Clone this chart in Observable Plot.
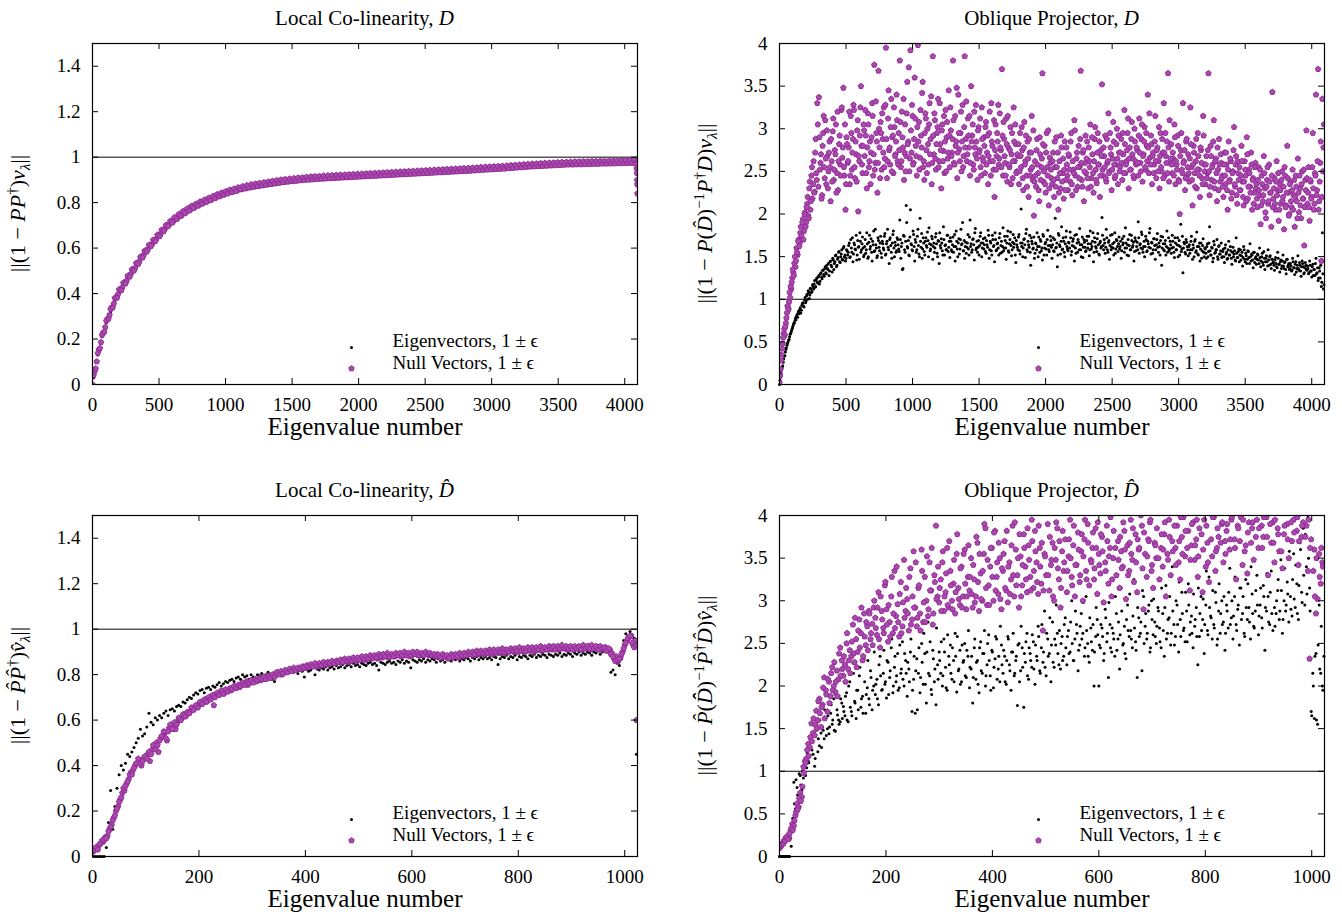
<!DOCTYPE html>
<html><head><meta charset="utf-8">
<script src="https://cdn.jsdelivr.net/npm/d3@7"></script>
<script src="https://cdn.jsdelivr.net/npm/@observablehq/plot@0.6"></script>
<style>
html,body{margin:0;padding:0;background:#fff;}
#wrap{position:relative;width:1342px;height:920px;font-family:"Liberation Serif",serif;color:#000;}
.panel{position:absolute;width:671px;height:460px;}
.title{position:absolute;font-size:21px;line-height:22px;transform:translateX(-50%);white-space:nowrap;}
</style></head><body><div id="wrap"></div>
<script>
// ---------- tick labels / categories ----------
const xTicksTop = [0,500,1000,1500,2000,2500,3000,3500,4000];
const xTicksBottom = [0,200,400,600,800,1000];
const yTicksColin = [0,0.2,0.4,0.6,0.8,1,1.2,1.4];
const yTicksOblique = [0,0.5,1,1.5,2,2.5,3,3.5,4];
const legendLabels = ["Eigenvectors, 1 \u00b1 \u03f5", "Null Vectors, 1 \u00b1 \u03f5"];
const xAxisLabel = "Eigenvalue number";

// ---------- Local Co-linearity, D ----------
const tlNullStep = 16;
const tlNullY = [
0.000,0.058,0.101,0.153,0.186,0.228,0.252,0.289,0.306,0.339,0.356,0.384,0.397,0.419,0.427,0.449,
0.456,0.479,0.486,0.507,0.512,0.535,0.541,0.563,0.568,0.589,0.594,0.614,0.617,0.636,0.640,0.658,
0.661,0.680,0.684,0.701,0.703,0.718,0.719,0.733,0.733,0.747,0.746,0.760,0.758,0.772,0.770,0.783,
0.780,0.793,0.790,0.803,0.799,0.811,0.807,0.819,0.815,0.827,0.823,0.835,0.830,0.842,0.837,0.848,
0.845,0.853,0.849,0.858,0.854,0.863,0.859,0.868,0.863,0.872,0.867,0.876,0.870,0.879,0.873,0.882,
0.876,0.885,0.879,0.888,0.882,0.891,0.885,0.893,0.888,0.896,0.890,0.898,0.893,0.901,0.895,
0.904,0.897,0.906,0.899,0.907,0.901,0.909,0.902,0.912,0.904,0.911,0.905,0.913,0.906,0.914,0.908,
0.915,0.909,0.916,0.910,0.917,0.911,0.918,0.912,0.919,0.913,0.920,0.914,0.921,0.915,0.922,
0.916,0.923,0.917,0.924,0.918,0.925,0.919,0.926,0.920,0.927,0.921,0.928,0.922,0.929,0.923,0.930,
0.924,0.931,0.925,0.932,0.926,0.933,0.927,0.934,0.928,0.935,0.929,0.936,0.930,0.937,0.931,0.938,
0.932,0.939,0.933,0.940,0.934,0.941,0.935,0.942,0.936,0.943,0.937,0.944,0.938,0.945,0.939,0.946,
0.940,0.947,0.941,0.948,0.943,0.950,0.944,0.951,0.945,0.952,0.946,0.953,0.947,0.954,0.949,
0.955,0.950,0.957,0.951,0.958,0.953,0.960,0.954,0.961,0.955,0.962,0.957,0.963,0.958,0.965,0.959,
0.966,0.961,0.967,0.962,0.968,0.963,0.969,0.964,0.970,0.965,0.971,0.966,0.972,0.967,0.973,
0.968,0.974,0.969,0.975,0.970,0.976,0.970,0.977,0.971,0.977,0.972,0.978,0.972,0.978,0.973,0.979,
0.973,0.979,0.974,0.980,0.974,0.980,0.975,0.981,0.975,0.981,0.976,0.982,0.976,0.982,0.977,0.983,
0.977,0.983,0.978,0.984];
const tlNull2Start = 8;
const tlNullY2 = [
0.040,0.070,0.138,0.160,0.218,0.231,0.280,0.289,0.332,0.338,0.380,0.381,0.418,0.414,0.447,0.444,
0.477,0.474,0.506,0.501,0.534,0.530,0.561,0.558,0.588,0.584,0.614,0.609,0.636,0.630,0.658,0.652,
0.680,0.675,0.701,0.696,0.719,0.712,0.735,0.727,0.749,0.741,0.762,0.753,0.774,0.765,0.785,0.776,
0.794,0.786,0.804,0.795,0.812,0.803,0.820,0.811,0.828,0.819,0.836,0.827,0.843,0.834,0.849,0.840,
0.856,0.846,0.861,0.851,0.867,0.858,0.872,0.862,0.876,0.866,0.880,0.870,0.883,0.872,0.886,0.876,
0.889,0.879,0.892,0.881,0.895,0.884,0.898,0.887,0.901,0.890,0.903,0.892,0.905,0.894,0.907,0.896,
0.909,0.898,0.910,0.900,0.912,0.901,0.914,0.902,0.915,0.904,0.916,0.905,0.918,0.906,0.919,0.907,
0.920,0.908,0.921,0.909,0.922,0.910,0.923,0.911,0.924,0.912,0.925,0.913,0.926,0.914,0.927,0.915,
0.928,0.916,0.929,0.917,0.930,0.918,0.931,0.919,0.932,0.920,0.933,0.921,0.934,0.922,0.935,0.923,
0.936,0.924,0.937,0.925,0.938,0.926,0.939,0.927,0.940,0.928,0.941,0.929,0.942,0.930,0.943,0.931,
0.944,0.932,0.945,0.933,0.946,0.934,0.947,0.935,0.948,0.936,0.949,0.937,0.950,0.938,0.951,0.939,
0.952,0.940,0.953,0.941,0.954,0.943,0.956,0.944,0.957,0.945,0.958,0.946,0.959,0.947,0.960,0.948,
0.961,0.949,0.962,0.951,0.964,0.952,0.965,0.954,0.967,0.955,0.968,0.957,0.969,0.958,0.971,0.959,
0.972,0.960,0.973,0.961,0.974,0.962,0.975,0.963,0.976,0.964,0.977,0.965,0.978,0.966,0.978,0.967,
0.979,0.967,0.980,0.968,0.980,0.968,0.981,0.969,0.981,0.969,0.982,0.970,0.982,0.970,0.983,0.971,
0.983,0.971,0.984,0.972,0.984,0.972,0.985,0.973,0.985,0.973,0.986,0.974,0.986,0.974,0.987,0.975];
const tlNullTailX = [4086,4088,4090,4092,4093,4094,4095];
const tlNullTailY = [0.975,0.97,0.95,0.93,0.90,0.88,0.84];
const tlEigStep = 32, tlEigStart = 8;
const tlEigY = [
0.03,0.13,0.21,0.27,0.32,0.37,0.41,0.44,0.47,0.50,0.525,0.55,0.58,0.605,0.63,0.65,
0.672,0.693,0.713,0.73,0.745,0.757,0.772,0.783,0.793,0.803,0.812,0.82,0.828,0.835,0.841,0.847,
0.852,0.856,0.861,0.866,0.87,0.874,0.877,0.88,0.883,0.886,0.889,0.892,0.894,0.897,0.899,0.901,
0.903,0.905,0.906,0.908,0.909,0.911,0.912,0.913,0.914,0.915,0.916,0.917,0.918,0.919,0.92,0.921,
0.922,0.923,0.924,0.925,0.926,0.927,0.928,0.929,0.93,0.931,0.932,0.933,0.934,0.935,0.936,0.937,
0.938,0.939,0.940,0.941,0.942,0.943,0.944,0.945,0.946,0.947,0.948,0.949,0.95,0.951,0.952,0.953,
0.955,0.956,0.958,0.959,0.96,0.962,0.963,0.964,0.965,0.966,0.967,0.968,0.969,0.97,0.971,0.972,
0.973,0.974,0.974,0.975,0.975,0.976,0.976,0.977,0.977,0.978,0.978,0.979,0.979,0.98,0.98,0.981];

// ---------- Oblique Projector, D ----------
const trStep = 8, tr2Start = 4;
const trEigY = [
0.00,0.09,0.17,0.22,0.30,0.34,0.41,0.46,0.50,0.53,0.59,0.62,0.66,0.70,0.72,0.78,
0.80,0.79,0.86,0.88,0.84,0.93,0.96,0.91,1.02,0.98,1.06,1.10,1.01,1.13,1.08,1.17,
1.12,1.22,1.15,1.25,1.19,1.28,1.21,1.31,1.24,1.34,1.27,1.38,1.30,1.36,1.42,1.33,
1.45,1.38,1.48,1.35,1.44,1.52,1.40,1.49,1.56,1.43,1.53,1.47,1.60,1.50,1.45,1.58,1.52,
1.63,1.49,1.70,1.55,1.44,1.66,1.59,1.75,1.52,1.61,1.47,1.68,1.58,1.73,1.50,
1.62,1.54,1.78,1.48,1.67,1.59,1.71,1.45,1.64,1.56,1.82,1.60,1.51,1.69,1.57,1.74,
1.49,1.65,1.58,1.77,1.53,1.68,1.61,1.42,1.72,1.55,1.66,1.80,1.50,1.63,1.57,1.70,
1.59,1.93,1.48,1.66,1.36,1.74,1.55,2.10,1.62,1.69,1.51,2.05,1.64,1.57,1.76,1.45,
1.67,1.58,1.82,1.53,1.95,1.61,1.48,1.72,1.56,1.68,1.63,1.79,1.50,1.65,1.59,1.74,
1.47,1.66,1.60,1.77,1.54,1.69,1.42,1.63,1.71,1.57,1.85,1.52,1.64,1.58,1.75,1.61,
1.49,1.68,1.56,1.73,1.62,1.45,1.80,1.59,1.66,1.53,1.70,1.64,1.90,1.57,1.48,1.67,
1.61,1.76,1.52,1.93,1.65,1.58,1.71,1.46,1.83,1.60,1.55,1.69,1.63,1.78,1.50,1.66,
1.59,1.72,1.54,1.64,1.81,1.48,1.68,1.57,1.75,1.62,1.44,1.70,1.58,1.66,1.52,1.77,
1.63,1.55,1.84,1.60,1.69,1.47,1.74,1.57,1.65,1.79,1.51,1.67,1.61,1.72,1.43,1.64,
1.58,1.76,1.53,2.06,1.66,1.60,1.71,1.49,1.82,1.56,1.64,1.75,1.40,1.68,1.59,1.73,
1.54,1.65,1.78,1.50,1.62,1.70,1.57,1.46,1.74,1.60,1.67,1.52,1.81,1.58,1.63,1.69,
1.48,1.72,1.56,1.95,1.61,1.38,1.77,1.64,1.53,1.85,1.59,1.68,1.50,1.73,1.62,1.57,
1.66,1.79,1.52,1.63,1.71,1.45,1.60,1.76,1.55,1.67,1.83,1.58,1.64,1.49,1.70,1.61,
1.57,1.74,1.65,1.51,1.80,1.59,1.68,1.44,1.72,1.62,1.56,1.77,1.53,1.66,1.60,1.96,
1.63,1.70,1.54,1.82,1.58,1.67,1.47,1.75,1.61,1.65,1.52,1.78,1.59,1.69,1.56,1.73,
1.62,1.48,1.71,1.66,1.55,1.84,1.60,1.64,1.51,1.76,1.58,1.69,1.63,1.45,1.72,1.57,
1.67,1.91,1.54,1.65,1.79,1.59,1.62,1.50,1.74,1.56,1.68,1.61,1.83,1.53,1.66,1.58,
1.71,1.47,1.64,1.77,1.55,1.62,1.69,1.40,1.73,1.58,1.65,1.52,1.80,1.60,1.57,1.68,
1.54,1.75,1.61,1.49,1.66,1.58,1.72,1.63,1.52,1.88,1.59,1.31,1.67,1.55,1.70,1.62,
1.51,1.64,1.58,1.74,1.47,1.60,1.68,1.55,1.79,1.53,1.62,1.45,1.66,1.57,1.71,1.50,
1.59,1.48,1.65,1.56,1.85,1.52,1.61,1.44,1.68,1.54,1.58,1.70,1.47,1.63,1.53,1.66,
1.50,1.59,1.43,1.64,1.55,1.48,1.68,1.52,1.57,1.41,1.61,1.53,1.46,1.72,1.49,1.56,
1.44,1.58,1.51,1.39,1.62,1.47,1.54,1.42,1.57,1.49,1.65,1.45,1.52,1.37,1.55,1.48,
1.41,1.53,1.46,1.60,1.38,1.50,1.43,1.56,1.35,1.48,1.44,1.58,1.40,1.51,1.36,1.47,
1.43,1.34,1.49,1.38,1.55,1.41,1.32,1.46,1.39,1.52,1.36,1.44,1.30,1.47,1.40,1.35,
1.42,1.33,1.48,1.37,1.29,1.44,1.36,1.51,1.34,1.40,1.27,1.45,1.38,1.31,1.43,1.35,
1.39,1.30,1.45,1.33,1.26,1.41,1.35,1.28,1.48,1.31,1.22,1.37,1.25,1.15,1.78,1.12];
const trEigY2 = [
0.05,0.13,0.20,0.26,0.33,0.38,0.43,0.48,0.52,0.56,0.60,0.64,0.68,0.72,0.75,0.76,
0.82,0.85,0.83,0.90,0.87,0.95,0.92,0.99,0.96,1.04,1.00,1.08,1.05,1.12,1.09,1.15,
1.18,1.14,1.23,1.20,1.26,1.18,1.30,1.26,1.34,1.29,1.36,1.31,1.40,1.35,1.28,1.44,
1.40,1.32,1.46,1.42,1.51,1.38,1.47,1.55,1.44,1.50,1.58,1.46,1.62,1.52,1.48,1.57,
1.55,1.66,1.50,1.60,1.72,1.53,1.64,1.58,1.46,1.69,1.62,1.78,1.55,1.65,1.60,1.52,
1.70,1.58,1.65,1.50,1.75,1.62,1.55,1.68,1.80,1.57,1.64,1.49,1.72,1.61,1.66,1.54,
1.68,1.60,1.74,1.52,1.65,1.82,1.58,1.70,1.63,1.48,1.76,1.60,1.67,1.55,1.72,1.64,
1.56,1.70,1.62,1.35,1.75,1.58,1.68,1.90,1.60,1.52,1.73,1.65,1.58,1.80,1.62,1.70,
1.55,1.74,1.63,1.50,1.68,1.77,1.59,1.66,1.52,1.72,1.61,1.69,1.84,1.57,1.64,1.71,
1.62,1.55,1.73,1.65,1.50,1.68,1.78,1.60,1.66,1.52,1.70,1.63,1.58,1.75,1.56,1.68,
1.72,1.58,1.64,1.55,1.76,1.62,1.68,1.50,1.71,1.59,1.82,1.65,1.57,1.69,1.62,1.54,
1.66,1.59,1.73,1.62,1.55,1.70,1.64,1.78,1.58,1.68,1.61,1.52,1.74,1.66,1.60,1.71,
1.64,1.56,1.69,1.61,1.75,1.58,1.66,1.52,1.70,1.63,1.78,1.57,1.65,1.60,1.72,1.54,
1.68,1.62,1.57,1.74,1.60,1.66,1.80,1.55,1.70,1.63,1.58,1.76,1.65,1.52,1.69,1.61,
1.73,1.57,1.66,1.62,1.50,1.70,1.64,1.77,1.58,1.68,1.61,1.55,1.72,1.65,1.60,1.48,
1.66,1.58,1.62,1.73,1.55,1.68,1.60,1.76,1.52,1.65,1.59,1.70,1.63,1.56,1.74,1.61,
1.64,1.57,1.70,1.60,1.66,1.52,1.75,1.62,1.68,1.58,1.72,1.55,1.65,1.80,1.59,1.67,
1.60,1.72,1.56,1.68,1.62,1.75,1.54,1.66,1.70,1.58,1.64,1.50,1.73,1.61,1.67,1.56,
1.69,1.60,1.74,1.58,1.65,1.62,1.78,1.55,1.67,1.60,1.71,1.64,1.52,1.68,1.62,1.75,
1.58,1.66,1.61,1.72,1.55,1.69,1.63,1.58,1.76,1.60,1.67,1.54,1.70,1.62,1.65,1.59,
1.68,1.57,1.64,1.74,1.60,1.66,1.52,1.70,1.63,1.58,1.75,1.61,1.67,1.56,1.69,1.62,
1.58,1.72,1.64,1.60,1.76,1.55,1.68,1.62,1.70,1.57,1.65,1.78,1.60,1.67,1.54,1.71,
1.63,1.58,1.70,1.61,1.66,1.52,1.74,1.60,1.65,1.57,1.69,1.62,1.55,1.72,1.59,1.64,
1.60,1.68,1.55,1.72,1.58,1.64,1.50,1.69,1.62,1.56,1.74,1.60,1.65,1.53,1.67,1.58,
1.62,1.54,1.68,1.58,1.64,1.50,1.70,1.57,1.62,1.52,1.66,1.59,1.48,1.63,1.55,1.60,
1.54,1.62,1.50,1.66,1.57,1.52,1.60,1.48,1.64,1.55,1.58,1.50,1.62,1.53,1.57,1.49,
1.56,1.50,1.60,1.53,1.47,1.58,1.52,1.62,1.48,1.55,1.50,1.57,1.45,1.54,1.49,1.59,
1.52,1.46,1.55,1.49,1.58,1.44,1.51,1.47,1.56,1.42,1.50,1.53,1.46,1.55,1.43,1.50,
1.47,1.52,1.42,1.49,1.45,1.54,1.40,1.48,1.44,1.51,1.39,1.46,1.50,1.41,1.47,1.43,
1.40,1.46,1.42,1.37,1.48,1.41,1.44,1.36,1.45,1.39,1.43,1.35,1.47,1.38,1.42,1.36,
1.39,1.34,1.44,1.37,1.41,1.32,1.40,1.36,1.43,1.33,1.38,1.42,1.30,1.37,1.40,1.34,
1.36,1.31,1.40,1.33,1.38,1.28,1.35,1.42,1.30,1.37,1.25,1.33,1.40,1.20,1.30,1.17];
const trNullY = [
0.02,0.18,0.35,0.48,0.60,0.58,0.72,0.84,0.90,0.97,1.02,1.12,1.25,1.31,1.42,1.38,
1.60,1.52,1.70,1.66,1.85,1.72,1.94,1.80,2.02,1.90,2.12,1.98,2.30,2.05,2.45,2.18,
2.62,2.26,2.88,2.40,3.05,3.37,2.52,2.70,2.22,2.95,2.55,3.10,2.35,2.68,2.50,2.85,
2.15,2.62,2.97,2.40,2.75,3.05,2.48,2.28,2.82,2.58,3.22,2.66,3.48,2.45,2.05,2.90,2.60,
2.78,2.35,3.15,2.52,2.88,3.22,2.42,2.70,2.98,2.03,2.62,3.25,2.80,2.48,3.05,
2.68,2.92,2.30,3.18,2.55,2.85,2.72,3.30,2.45,3.75,2.60,2.95,2.25,3.68,2.78,3.08,
2.52,2.88,3.25,2.65,3.95,2.42,3.12,2.75,2.58,3.35,2.90,2.48,3.02,2.70,3.40,2.62,
2.95,3.80,2.55,3.20,2.78,2.40,3.05,2.68,3.55,2.85,2.50,3.92,2.72,3.15,2.60,3.60,
2.80,2.45,3.98,3.08,2.66,2.92,3.42,2.55,2.40,3.18,2.75,3.00,2.58,3.30,2.88,2.35,
3.85,2.70,3.10,2.52,2.95,3.35,2.62,2.82,2.30,3.05,2.74,2.48,3.22,2.90,2.65,3.45,
2.55,2.98,2.72,3.80,2.60,3.15,2.85,2.42,3.40,2.76,2.95,2.50,3.28,2.68,3.85,2.88,
2.62,3.12,2.78,2.45,3.50,2.92,2.58,3.20,2.70,2.85,2.40,3.02,2.75,2.55,3.25,2.66,
2.90,2.48,3.08,2.72,2.35,2.95,2.62,3.30,2.80,2.52,2.20,3.05,2.68,2.85,2.58,3.18,
2.75,3.70,2.45,2.88,2.60,3.12,2.38,2.78,2.55,3.02,2.70,2.42,3.25,2.62,2.82,2.50,
2.68,2.35,2.95,2.55,2.75,2.28,3.08,2.62,2.45,2.85,2.20,2.72,2.52,3.15,2.40,1.98,
2.62,2.32,2.88,2.48,2.15,2.70,2.55,3.65,2.38,2.80,2.25,2.95,2.45,2.10,2.66,2.52,
2.35,2.72,2.20,2.55,2.90,2.42,2.05,2.62,2.30,2.78,2.48,2.18,2.85,2.40,2.58,2.28,
2.68,2.38,2.95,2.22,2.52,3.10,2.45,2.65,2.32,2.80,2.55,3.68,2.40,2.72,2.15,2.60,
2.48,2.85,2.30,2.62,3.05,2.42,2.70,2.25,2.88,2.52,2.36,2.95,2.58,2.20,2.75,3.52,
2.45,2.68,2.92,2.38,2.60,3.18,2.50,2.78,2.28,2.65,2.85,2.42,2.58,3.00,2.35,2.72,
2.55,2.88,2.40,2.70,3.22,2.48,2.62,2.95,2.30,2.78,2.52,3.08,2.65,2.42,2.85,2.58,
2.75,2.45,3.12,2.60,2.88,2.38,2.70,3.02,2.52,2.80,3.40,2.48,2.66,2.92,2.35,2.72,
2.58,3.15,2.42,2.78,2.62,2.30,2.95,2.50,2.72,3.30,2.45,2.68,2.85,3.65,2.38,2.60,
2.82,2.48,2.65,3.05,2.35,2.58,2.92,2.40,2.00,2.75,2.52,3.30,2.62,2.28,2.85,2.45,
2.70,2.38,3.25,2.55,2.10,2.80,2.48,2.62,2.30,2.95,2.52,2.20,2.75,2.42,3.15,2.58,
2.35,2.68,2.48,3.65,2.22,2.80,2.40,2.58,3.10,2.30,2.65,2.15,2.52,2.88,2.38,2.60,
2.45,2.20,2.72,2.35,2.58,2.05,2.85,2.40,2.62,2.25,2.50,3.02,2.32,2.68,2.12,2.48,
2.55,2.28,2.80,2.38,2.10,2.62,2.45,2.90,2.18,2.52,2.32,2.72,2.05,2.42,2.25,2.60,
2.35,2.08,2.55,2.22,1.88,2.45,2.15,2.68,2.30,1.95,2.40,2.12,2.58,2.25,1.85,3.43,
2.18,2.42,2.05,2.62,2.28,1.92,2.35,2.12,2.50,2.20,1.82,2.45,2.10,2.80,2.25,2.00,
2.38,2.08,2.52,2.22,1.85,2.45,2.15,2.65,2.02,2.30,1.95,2.50,2.18,1.63,2.40,2.98,
2.12,2.55,1.92,2.38,2.20,2.95,2.05,2.48,3.40,2.28,3.70,2.15,2.60,1.45,3.35,2.78];
const trNullY2 = [
0.10,0.28,0.42,0.55,0.65,0.68,0.78,0.92,0.88,1.08,1.15,1.20,1.35,1.28,1.50,1.45,
1.55,1.68,1.62,1.78,1.75,1.90,1.70,2.00,1.85,2.08,2.20,1.95,2.38,2.15,2.55,2.35,
2.25,2.72,2.48,3.30,2.32,2.90,2.60,2.18,2.80,3.15,2.42,2.65,2.98,2.30,2.72,2.55,
2.88,2.38,3.12,2.52,2.70,2.25,3.20,2.62,2.92,2.45,3.25,2.78,2.55,3.05,2.35,2.82,
2.62,3.20,2.45,2.95,2.72,3.28,2.55,2.85,2.38,3.10,2.68,2.92,3.50,2.58,2.80,2.98,
3.22,2.48,2.78,3.05,2.62,2.35,2.90,3.15,2.70,2.52,3.32,2.85,2.60,3.00,2.42,2.95,
3.18,2.72,2.55,3.28,2.88,2.62,3.45,2.78,3.02,2.50,2.92,3.25,2.68,2.85,3.10,2.58,
2.75,3.08,2.62,2.90,3.35,2.72,2.50,3.18,2.82,3.72,2.65,2.98,3.28,2.58,2.88,3.12,
2.68,3.02,2.85,2.52,3.22,2.78,3.55,2.62,2.95,3.12,2.48,2.82,3.05,2.70,3.38,2.60,
2.92,3.18,2.65,2.82,3.02,2.55,3.30,2.75,2.98,2.62,3.15,2.85,2.50,3.08,2.72,2.92,
3.25,2.68,2.88,3.10,2.58,2.80,3.48,2.72,2.95,2.62,3.20,2.85,2.55,3.02,2.78,3.32,
2.70,2.92,3.15,2.60,2.85,3.05,2.52,2.78,3.28,2.65,2.98,2.72,3.12,2.45,2.88,2.62,
2.80,3.02,2.58,2.92,2.68,3.20,2.45,2.85,2.62,3.10,2.75,2.52,2.95,3.28,2.65,2.78,
2.55,2.92,3.08,2.68,2.45,2.82,3.15,2.58,2.75,2.35,2.95,2.62,2.85,3.05,2.48,2.70,
2.82,2.50,2.68,3.02,2.42,2.78,2.58,2.92,2.32,2.65,2.88,2.45,2.72,2.55,2.98,2.38,
2.45,2.75,2.58,2.28,2.90,2.40,2.65,2.82,2.50,2.35,2.72,2.55,2.98,2.30,2.60,2.42,
2.62,2.40,2.85,2.32,2.55,2.72,2.25,2.48,2.92,2.38,2.65,2.52,2.28,2.78,2.45,2.70,
2.52,2.85,2.35,2.62,2.48,2.98,2.28,2.72,2.55,2.42,2.88,2.60,2.32,2.75,2.50,2.92,
2.65,2.42,2.78,2.55,2.32,2.90,2.48,2.62,3.02,2.40,2.72,2.58,2.85,2.45,2.68,2.52,
2.78,2.55,2.42,2.88,2.62,2.48,2.95,2.70,2.52,3.08,2.58,2.45,2.82,2.65,2.92,2.50,
2.72,2.60,2.95,2.48,2.82,2.58,2.75,3.12,2.65,2.52,2.88,2.70,2.45,3.00,2.62,2.78,
2.60,2.92,2.72,2.50,3.05,2.68,2.85,2.55,2.95,2.62,2.78,3.18,2.58,2.82,2.68,2.48,
2.85,2.62,2.75,2.50,3.02,2.68,2.55,2.88,2.42,2.72,2.95,2.60,2.48,2.78,3.10,2.65,
2.58,2.72,2.45,2.90,2.62,2.52,2.80,2.38,2.68,2.95,2.48,2.60,2.75,2.42,2.88,2.55,
2.48,2.65,2.82,2.40,2.58,2.72,2.32,2.88,2.52,2.68,2.45,2.78,2.60,2.35,2.92,2.50,
2.58,2.42,2.75,2.50,2.32,2.68,2.55,2.85,2.38,2.62,2.48,2.78,2.28,2.58,2.70,2.42,
2.32,2.58,2.45,2.72,2.28,2.52,2.38,2.65,2.18,2.48,2.75,2.35,2.58,2.22,2.62,2.40,
2.28,2.45,2.62,2.20,2.38,2.52,2.15,2.70,2.32,2.48,2.25,2.58,2.40,2.12,2.55,2.30,
2.18,2.40,2.28,2.52,2.10,2.35,2.22,2.48,2.02,2.32,2.55,2.15,2.38,2.25,2.45,2.08,
2.30,2.12,2.38,2.22,2.48,2.05,2.28,2.40,2.15,2.32,2.55,2.08,2.25,2.42,1.98,2.35,
2.15,2.28,2.05,2.40,2.20,2.32,1.95,2.25,2.45,2.10,2.35,2.18,2.52,2.08,2.28,2.42,
2.25,2.08,2.40,2.18,2.55,2.30,2.12,2.45,2.22,2.62,2.05,2.38,2.85,2.20,2.50,3.05];

// ---------- Local Co-linearity, D-hat ----------
const blStep = 4, blNull2Start = 2, blEigStart = 2;
const blNullY = [
0.02,0.03,0.035,0.05,0.06,0.065,0.085,0.09,0.12,0.14,0.17,0.20,0.22,0.25,0.28,0.29,
0.32,0.34,0.37,0.38,0.40,0.41,0.42,0.40,0.43,0.44,0.45,0.42,0.47,0.48,0.50,0.46,
0.52,0.53,0.545,0.51,0.565,0.575,0.58,0.56,0.595,0.60,0.61,0.625,0.62,0.635,0.64,0.65,
0.655,0.66,0.67,0.675,0.68,0.69,0.685,0.70,0.705,0.665,0.71,0.715,0.72,0.725,0.72,0.73,
0.735,0.73,0.74,0.745,0.75,0.745,0.755,0.76,0.76,0.755,0.765,0.77,0.775,0.77,0.78,0.775,
0.78,0.79,0.785,0.79,0.795,0.80,0.80,0.81,0.805,0.80,0.815,0.81,0.815,0.82,0.82,0.825,
0.82,0.83,0.825,0.835,0.83,0.84,0.835,0.84,0.845,0.84,0.835,0.845,0.85,0.845,0.85,0.845,
0.85,0.855,0.85,0.86,0.855,0.86,0.86,0.865,0.855,0.86,0.865,0.87,0.86,0.865,0.87,0.87,
0.865,0.87,0.875,0.87,0.88,0.875,0.87,0.88,0.875,0.88,0.885,0.875,0.88,0.885,0.88,0.89,
0.885,0.88,0.89,0.885,0.89,0.88,0.885,0.89,0.895,0.885,0.89,0.885,0.89,0.895,0.885,0.89,
0.885,0.88,0.89,0.88,0.875,0.885,0.88,0.87,0.88,0.875,0.885,0.88,0.875,0.885,0.88,0.89,
0.885,0.89,0.895,0.885,0.895,0.89,0.90,0.895,0.89,0.90,0.895,0.90,0.89,0.895,0.90,0.895,
0.90,0.905,0.895,0.90,0.905,0.91,0.90,0.905,0.90,0.91,0.905,0.90,0.91,0.905,0.91,0.90,
0.905,0.91,0.915,0.905,0.91,0.915,0.91,0.92,0.91,0.915,0.92,0.91,0.915,0.92,0.915,0.91,
0.915,0.92,0.91,0.915,0.92,0.915,0.91,0.92,0.915,0.925,0.91,0.92,0.915,0.92,0.91,0.915,
0.91,0.92,0.905,0.91,0.895,0.87,0.88,0.86,0.875,0.90,0.93,0.95,0.965,0.97,0.93,0.95];
const blNullY2 = [
0.025,0.04,0.03,0.055,0.07,0.075,0.08,0.11,0.13,0.16,0.18,0.21,0.24,0.26,0.30,0.31,
0.33,0.36,0.36,0.39,0.41,0.43,0.41,0.42,0.44,0.43,0.46,0.45,0.49,0.47,0.49,0.51,
0.53,0.55,0.52,0.55,0.58,0.56,0.59,0.58,0.61,0.60,0.625,0.615,0.635,0.63,0.655,0.645,
0.665,0.655,0.68,0.67,0.69,0.68,0.70,0.69,0.71,0.70,0.72,0.71,0.73,0.715,0.735,0.725,
0.74,0.735,0.75,0.74,0.755,0.75,0.765,0.755,0.77,0.765,0.775,0.765,0.78,0.775,0.785,0.78,
0.79,0.78,0.795,0.785,0.80,0.79,0.81,0.80,0.815,0.805,0.82,0.81,0.825,0.815,0.83,0.82,
0.83,0.825,0.835,0.83,0.84,0.835,0.845,0.835,0.85,0.84,0.85,0.84,0.855,0.845,0.855,0.85,
0.86,0.85,0.86,0.855,0.865,0.855,0.87,0.86,0.87,0.86,0.875,0.865,0.875,0.865,0.88,0.87,
0.88,0.87,0.885,0.875,0.885,0.875,0.89,0.88,0.89,0.88,0.895,0.88,0.89,0.88,0.895,0.885,
0.895,0.885,0.90,0.885,0.895,0.885,0.90,0.89,0.90,0.885,0.895,0.885,0.90,0.89,0.895,0.885,
0.89,0.88,0.885,0.875,0.89,0.88,0.885,0.875,0.89,0.88,0.89,0.88,0.895,0.885,0.895,0.885,
0.90,0.89,0.90,0.89,0.905,0.895,0.905,0.895,0.905,0.895,0.91,0.90,0.91,0.90,0.91,0.90,
0.915,0.90,0.91,0.90,0.915,0.905,0.915,0.905,0.92,0.905,0.915,0.905,0.92,0.91,0.92,0.91,
0.92,0.91,0.925,0.91,0.92,0.91,0.925,0.915,0.925,0.91,0.925,0.915,0.93,0.915,0.925,0.915,
0.925,0.91,0.925,0.915,0.925,0.91,0.93,0.915,0.925,0.915,0.93,0.915,0.925,0.91,0.925,0.915,
0.92,0.905,0.915,0.89,0.88,0.86,0.865,0.87,0.89,0.915,0.94,0.96,0.97,0.94,0.925,0.93];
const blNullTailX = [1018,1022,1023];
const blNullTailY = [0.92,0.60,0.93];
const blEigY = [
0,0,0,0,0,0,
0.04,0.15,0.29,0.12,0.22,0.30,0.36,0.40,0.38,0.41,0.45,0.44,0.46,0.48,0.50,0.52,
0.56,0.53,0.54,0.57,0.63,0.59,0.58,0.61,0.60,0.62,0.61,0.63,0.64,0.62,0.645,0.65,
0.64,0.66,0.665,0.66,0.68,0.675,0.69,0.70,0.695,0.71,0.72,0.715,0.73,0.735,0.72,0.74,
0.745,0.735,0.75,0.745,0.755,0.765,0.75,0.76,0.77,0.765,0.775,0.78,0.77,0.785,0.79,0.78,
0.80,0.79,
0.795,0.78,0.80,0.79,0.785,0.80,0.795,0.805,0.79,0.80,0.81,0.795,0.78,0.77,0.80,0.805,
0.81,0.80,0.815,0.805,0.81,0.82,0.81,0.815,0.805,0.82,0.815,0.79,0.825,0.815,0.82,0.83,
0.80,0.825,0.82,0.83,0.825,0.835,0.82,0.83,0.835,0.825,0.84,0.83,0.835,0.845,0.83,0.84,
0.845,0.835,0.85,0.84,0.845,0.835,0.85,0.845,0.84,0.85,0.855,0.845,0.85,0.84,0.82,0.855,
0.85,0.845,0.855,0.86,0.85,0.855,0.845,0.86,0.855,0.865,0.85,0.86,0.855,0.83,0.865,0.86,
0.855,0.865,0.86,0.87,0.855,0.865,0.86,0.87,0.865,0.855,0.87,0.86,0.865,0.855,0.87,0.865,
0.86,0.87,0.865,0.875,0.86,0.87,0.865,0.875,0.87,0.86,0.875,0.87,0.88,0.865,0.875,0.87,
0.88,0.87,0.875,0.865,0.88,0.875,0.845,0.87,0.88,0.875,0.885,0.87,0.88,0.875,0.885,0.865,
0.88,0.875,0.885,0.88,0.87,0.885,0.88,0.89,0.875,0.885,0.88,0.89,0.885,0.875,0.89,0.885,
0.88,0.89,0.885,0.895,0.88,0.89,0.885,0.895,0.89,0.88,0.895,0.89,0.90,0.885,0.895,0.89,
0.90,0.895,0.885,0.90,0.895,0.905,0.89,0.90,0.91,0.92,0.905,0.81,0.82,0.80,0.85,0.84,
0.87,0.95,0.98,0.97,0.99,0.975,0.96,0.45];

// ---------- Oblique Projector, D-hat ----------
const brStep = 3, br2Start = 1;
const brEigY = [
0,0,0,0,0,0,0,0.22,0.30,0.87,0.56,0.81,0.68,0.95,0.78,0.92,1.15,1.04,1.12,1.28,
1.36,1.20,1.06,1.48,1.23,1.30,1.45,1.52,1.38,1.62,1.50,1.44,1.68,1.55,1.85,1.47,1.72,1.60,1.58,1.80,
1.76,1.65,1.92,1.58,2.05,1.70,2.27,1.82,1.62,1.95,2.12,1.75,1.88,2.32,1.68,1.98,1.85,2.18,1.72,2.00,
1.90,2.08,1.78,2.35,1.95,2.15,2.02,1.86,2.28,2.10,2.45,1.92,2.22,2.05,2.38,1.98,2.15,2.52,2.00,2.30,
1.88,2.20,2.40,1.70,2.08,1.68,2.32,2.15,1.92,2.50,2.02,2.38,1.80,2.75,2.12,1.96,2.42,2.05,1.78,2.25,
2.40,2.15,2.00,2.55,2.22,1.95,2.35,2.48,2.08,2.30,2.62,1.93,2.18,2.42,2.05,2.28,2.50,2.10,2.35,1.98,
2.20,1.80,2.45,2.08,2.30,1.92,2.52,2.15,2.38,2.00,2.25,2.60,2.12,2.42,1.98,2.32,2.55,2.20,2.05,2.48,
2.15,2.35,2.02,2.58,2.25,1.95,2.40,2.12,2.30,1.77,2.50,2.18,2.45,1.75,2.28,2.62,2.08,2.38,2.22,2.52,
2.02,2.35,2.70,2.18,2.45,2.28,2.88,2.12,2.55,2.38,2.05,2.75,2.22,2.48,2.62,2.25,2.20,2.58,2.35,2.80,
2.25,2.65,2.40,3.00,2.30,2.55,2.72,2.18,2.48,2.85,2.62,2.35,3.05,2.50,2.28,2.68,2.42,2.00,2.58,2.78,
2.00,2.45,2.68,2.30,2.90,2.52,2.10,2.72,2.40,2.62,2.35,2.85,2.55,2.20,3.15,2.48,2.70,2.32,2.95,2.58,
2.65,2.45,3.25,2.52,2.10,2.80,2.62,2.18,3.05,2.70,2.55,2.88,2.40,3.00,2.60,2.75,2.50,2.92,2.68,2.45,
2.85,2.35,3.18,2.62,2.80,2.48,3.40,2.72,2.58,2.95,2.40,2.78,3.10,2.65,2.52,2.88,3.20,2.60,2.82,2.45,
2.70,2.92,2.25,2.58,3.05,2.78,2.38,2.95,2.65,3.28,2.82,2.55,2.72,3.10,2.48,2.88,2.62,3.00,2.75,2.42,
2.95,2.68,3.38,2.80,2.55,3.05,2.72,2.90,2.48,3.15,2.85,2.62,3.25,2.78,2.92,2.55,3.08,2.70,2.88,3.30,
2.60,2.95,2.80,3.18,2.42,2.88,3.05,2.72,3.35,2.65,2.92,2.85,3.12,2.78,3.48,2.62,3.00,2.88,3.22,2.75,
3.05,2.82,3.55,2.92,3.20,2.78,3.68,3.10,3.85,2.95,3.40,3.98,3.15,1.70,2.15,1.62,2.38,1.55,2.95,2.15,
2.00,2.35];
const brEigY2 = [
0,0,0,0,0,0,0,0.12,0.45,0.62,0.90,0.72,0.97,0.84,1.00,1.08,0.95,1.22,1.10,1.35,
1.25,1.42,1.15,1.55,1.38,1.60,1.28,1.48,1.72,1.42,1.65,1.52,1.78,1.60,1.48,1.90,1.66,1.55,1.85,1.62,
1.70,1.88,1.60,2.00,1.75,1.65,2.15,1.80,1.95,1.72,2.22,1.85,1.68,2.05,1.90,2.30,1.78,2.10,1.95,2.40,
2.02,1.85,2.25,2.12,1.96,2.42,2.05,2.30,1.90,2.18,2.55,2.00,2.35,2.12,1.95,2.48,2.20,2.08,2.38,2.15,
2.28,2.05,2.55,1.95,2.35,2.18,1.72,2.45,2.10,2.28,2.62,2.02,2.40,2.15,2.52,1.90,2.32,2.20,2.68,2.08,
2.30,2.52,2.12,2.40,1.98,2.60,2.25,2.15,2.45,2.05,2.35,2.58,2.20,2.02,2.48,2.30,2.12,2.42,2.65,2.22,
2.35,2.10,2.55,2.28,2.02,2.45,2.18,2.38,2.65,2.12,2.50,2.30,1.95,2.40,2.22,2.58,2.08,2.35,2.70,2.25,
2.42,2.05,2.30,2.55,2.18,2.40,2.62,2.15,2.35,2.48,2.05,2.70,2.22,2.38,2.52,2.12,2.45,2.30,2.60,2.20,
2.48,2.30,2.58,2.15,2.72,2.40,2.22,2.62,2.35,2.80,2.48,2.28,2.55,2.95,2.38,2.65,2.50,2.30,2.72,2.45,
2.58,2.38,2.75,2.50,2.30,2.88,2.62,2.42,2.70,2.55,2.98,2.45,2.65,2.35,2.80,2.52,2.72,2.40,2.92,2.60,
2.48,2.72,2.58,2.38,2.80,2.62,2.98,2.45,2.68,2.55,3.05,2.42,2.75,2.60,2.88,2.50,2.38,2.78,2.65,3.08,
2.55,2.82,2.68,2.42,2.92,2.58,2.75,3.12,2.50,2.85,2.62,2.95,2.45,2.78,3.02,2.58,2.70,2.88,2.52,3.15,
2.65,2.92,2.55,2.78,3.05,2.62,2.88,2.48,3.00,2.72,3.22,2.58,2.85,2.68,3.10,2.52,2.95,2.75,2.62,3.08,
2.78,2.58,3.15,2.85,2.65,3.02,2.72,3.35,2.60,2.92,2.80,3.12,2.68,2.98,2.55,3.20,2.85,2.72,3.05,2.62,
2.88,3.10,2.72,3.00,2.82,3.28,2.65,2.95,3.15,2.78,3.05,2.58,2.92,3.20,2.75,3.40,2.85,2.68,3.12,2.95,
2.82,3.15,2.68,3.05,2.92,3.32,2.75,3.10,2.85,3.45,2.70,3.00,3.25,2.88,3.12,2.78,3.38,2.95,3.08,3.58,
2.90,3.25,3.02,3.42,2.85,3.18,3.60,2.98,3.30,3.78,3.08,3.50,2.88,1.65,2.00,2.35,1.60,2.48,2.20,2.70,
1.95];
const brNullY = [
0.10,0.12,0.16,0.19,0.22,0.24,0.21,0.30,0.38,0.36,0.48,0.62,0.58,0.75,0.70,1.05,1.12,1.15,1.32,1.28,
1.56,1.45,1.42,1.71,1.60,1.85,1.52,1.78,2.10,1.95,1.70,2.05,1.88,2.22,2.00,1.93,2.18,2.08,2.45,2.30,
2.12,2.25,2.50,2.20,2.42,2.35,2.72,2.28,2.55,2.40,2.78,2.62,2.30,2.85,2.48,2.70,2.88,2.55,2.73,2.92,
2.80,2.60,3.10,2.45,2.88,2.68,3.18,2.90,2.52,2.75,3.05,2.62,3.35,2.82,2.96,2.58,3.22,2.70,3.48,2.88,
3.02,2.65,3.38,2.78,3.58,2.92,2.70,3.15,2.85,3.60,2.75,3.28,3.00,2.82,3.45,3.12,2.72,3.30,3.88,3.05,
2.98,3.25,3.45,2.88,3.10,3.62,2.92,3.35,3.00,3.20,2.85,3.55,3.15,2.95,3.40,3.05,3.60,2.90,3.28,3.12,
3.50,2.92,3.25,3.05,3.68,2.88,3.32,3.00,3.55,3.85,2.95,3.18,3.40,3.62,3.00,3.82,3.28,3.08,3.50,2.90,
3.35,3.70,3.12,2.98,3.45,3.25,3.88,3.05,3.60,3.30,2.92,3.52,3.18,3.78,3.40,3.10,3.65,3.28,3.95,3.15,
3.82,3.45,3.08,3.62,3.20,2.65,3.55,3.30,3.90,3.12,3.42,3.68,3.00,3.48,3.85,3.25,2.92,3.58,3.35,3.72,
3.10,3.52,3.95,3.28,3.65,3.05,3.42,3.80,3.22,3.58,3.00,3.72,3.35,3.90,3.18,3.48,3.62,3.25,3.85,3.08,
3.55,3.32,3.75,2.98,3.45,3.88,3.20,3.62,3.05,3.50,4.20,3.30,3.70,3.15,3.58,3.40,3.82,3.02,3.65,3.35,
3.95,3.48,3.22,3.78,3.10,3.60,4.30,3.88,2.90,3.55,3.28,3.72,3.92,3.35,3.15,3.68,3.50,4.15,3.25,3.62,
3.40,3.78,3.05,3.55,3.95,3.30,3.70,4.25,3.62,3.88,3.45,3.25,3.75,3.98,3.52,4.40,3.82,3.12,3.65,3.92,
3.48,3.72,3.28,3.85,4.10,3.10,3.95,3.40,3.68,3.22,4.35,3.52,3.98,3.35,3.62,3.75,4.20,3.90,3.45,3.70,
3.82,4.25,3.60,3.95,4.40,3.72,3.25,3.88,4.15,3.98,3.42,4.30,3.65,3.32,3.92,4.50,3.85,3.48,4.20,3.95,
3.62,4.35,3.88,3.75,4.10,3.98,3.30,4.45,3.68,3.92,3.45,4.22,3.85,3.58,4.60,3.38,3.78,4.15,3.90,3.50,
4.30,3.70,3.95,4.12,3.82,3.42,4.40,3.75,3.92,4.25,3.88,3.35,2.32,3.72,4.18,3.60,2.85,3.02,3.55,3.20,
3.45,3.42];
const brNullY2 = [
0.11,0.14,0.15,0.18,0.23,0.20,0.27,0.33,0.31,0.42,0.52,0.55,0.68,0.65,0.82,0.98,1.10,1.25,1.18,1.40,
1.35,1.62,1.55,1.50,1.82,1.68,1.75,1.98,1.62,1.90,2.08,1.80,2.15,1.95,2.28,2.05,1.88,2.38,2.12,2.20,
2.35,2.05,2.62,2.30,2.15,2.52,2.38,2.80,2.22,2.65,2.45,2.92,2.35,2.58,2.75,2.42,2.85,2.62,2.48,3.00,
2.68,2.92,2.55,3.05,2.78,2.62,3.22,2.72,2.95,2.58,3.28,2.85,2.68,3.40,2.75,3.08,2.62,2.98,2.80,3.15,
2.85,3.28,2.72,3.05,2.92,3.45,2.80,3.18,2.65,3.35,2.98,2.75,3.52,2.90,3.12,3.62,2.85,3.22,3.02,3.40,
3.15,2.88,3.58,3.05,3.32,2.95,3.70,3.18,2.90,3.48,3.10,3.78,3.02,3.38,2.92,3.55,3.20,3.05,3.65,3.28,
3.08,3.42,2.98,3.75,3.22,3.55,3.02,3.35,3.90,3.15,3.48,2.95,3.62,3.28,3.80,3.12,3.45,3.68,3.02,3.38,
3.55,3.15,3.82,3.40,3.08,3.65,3.30,3.92,3.18,3.50,3.78,3.05,3.42,3.62,3.25,3.85,3.48,3.12,3.70,3.35,
3.58,3.22,3.88,3.40,3.68,3.12,3.52,4.10,3.30,3.75,3.48,3.05,3.62,3.92,3.38,3.70,3.15,3.82,3.45,4.20,
3.35,3.72,3.50,3.18,3.88,3.42,4.05,3.60,3.30,3.78,3.52,3.95,3.25,3.68,4.15,3.45,3.80,3.38,3.62,3.92,
3.42,3.78,3.58,4.10,3.35,3.70,3.52,3.98,3.25,3.82,3.62,4.25,3.48,3.75,3.38,3.92,3.60,4.05,3.30,3.68,
3.55,3.85,4.20,3.45,3.72,3.62,4.00,3.38,3.80,4.30,3.52,3.70,3.95,3.42,4.15,3.65,3.85,3.50,4.05,3.78,
3.60,3.92,4.25,3.48,3.75,4.10,3.58,3.88,3.42,4.35,3.70,3.98,3.55,4.20,3.82,3.62,4.05,3.48,3.90,4.40,
3.65,3.95,3.52,4.15,3.78,3.60,4.30,3.88,3.45,4.05,3.72,3.98,4.45,3.58,3.85,4.20,3.68,3.92,4.10,3.55,
3.90,4.35,3.72,3.98,4.15,3.62,4.50,3.85,3.70,4.25,3.95,3.58,4.40,3.80,4.10,3.68,3.92,4.55,3.75,4.05,
3.85,4.20,3.62,3.98,4.45,3.75,4.10,3.90,4.60,3.68,3.95,4.30,3.78,4.15,3.58,4.50,3.88,4.05,3.72,4.35,
3.92,4.25,3.80,4.55,3.98,3.70,4.40,3.88,4.15,3.75,4.60,3.95,3.62,4.20,3.35,3.05,3.50,4.30,3.28,3.62,
3.40];

// ---------- styling ----------
const NULL_STROKE = "#932c98";
const NULL_FILL = "#a94aad";
const FONT = '"Liberation Serif", "DejaVu Serif", serif';

const pentagon = {
  draw(context, size) {
    const R = Math.sqrt(size / 2.378);
    for (let k = 0; k < 5; ++k) {
      const a = -Math.PI / 2 + k * 2 * Math.PI / 5;
      const px = R * Math.cos(a), py = R * Math.sin(a);
      if (k === 0) context.moveTo(px, py); else context.lineTo(px, py);
    }
    context.closePath();
  }
};

const seq = (ys, step, start = 0) => ys.map((y, i) => ({x: start + i * step, y}));
const pairs = (xs, ys) => xs.map((x, i) => ({x, y: ys[i]}));

const panels = [
  {left: 0, top: 0, h: 460, mt: 43, mb: 76, ml: 92, mr: 34, xmax: 4096, ymax: 1.5,
   xTicks: xTicksTop, yTicks: yTicksColin, titleTop: 7,
   title: 'Local Co-linearity, <i>D</i>',
   eig: seq(tlEigY, tlEigStep, tlEigStart),
   nul: seq(tlNullY, tlNullStep).concat(seq(tlNullY2, tlNullStep, tlNull2Start), pairs(tlNullTailX, tlNullTailY)),
   ylabX: 25,
   ylab: [["||(1 \u2212 ","n"],["PP","i"],["\u2020","sup"],[")","n"],["v","i"],["\u03bb","sub"],["||","n"]]},
  {left: 671, top: 0, h: 460, mt: 43, mb: 76, ml: 108, mr: 18, xmax: 4096, ymax: 4,
   xTicks: xTicksTop, yTicks: yTicksOblique, titleTop: 7,
   title: 'Oblique Projector, <i>D</i>',
   eig: seq(trEigY, trStep).concat(seq(trEigY2, trStep, tr2Start)),
   nul: seq(trNullY, trStep).concat(seq(trNullY2, trStep, tr2Start)),
   ylabX: 41,
   ylab: [["||(1 \u2212 ","n"],["P","i"],["(","n"],["D\u0302","i"],[")","n"],["\u22121","sup"],["P","i"],["\u2020","sup"],["D","i"],[")","n"],["v","i"],["\u03bb","sub"],["||","n"]]},
  {left: 0, top: 460, h: 460, mt: 55, mb: 64, ml: 92, mr: 34, xmax: 1024, ymax: 1.5,
   xTicks: xTicksBottom, yTicks: yTicksColin, titleTop: 19,
   title: 'Local Co-linearity, <i>D\u0302</i>',
   eig: seq(blEigY, blStep, blEigStart),
   nul: seq(blNullY, blStep).concat(seq(blNullY2, blStep, blNull2Start), pairs(blNullTailX, blNullTailY)),
   ylabX: 25,
   ylab: [["||(1 \u2212 ","n"],["P\u0302P\u0302","i"],["\u2020","sup"],[")","n"],["v\u0302","i"],["\u03bb","sub"],["||","n"]]},
  {left: 671, top: 460, h: 460, mt: 55, mb: 64, ml: 108, mr: 18, xmax: 1024, ymax: 4,
   xTicks: xTicksBottom, yTicks: yTicksOblique, titleTop: 19,
   title: 'Oblique Projector, <i>D\u0302</i>',
   eig: seq(brEigY, brStep).concat(seq(brEigY2, brStep, br2Start)),
   nul: seq(brNullY, brStep).concat(seq(brNullY2, brStep, br2Start)),
   ylabX: 41,
   ylab: [["||(1 \u2212 ","n"],["P\u0302","i"],["(","n"],["D\u0302\u0302","i"],[")","n"],["\u22121","sup"],["P\u0302","i"],["\u2020","sup"],["D\u0302","i"],[")","n"],["v\u0302","i"],["\u03bb","sub"],["||","n"]]}
];

const wrap = document.getElementById("wrap");
for (const p of panels) {
  const W = 671;
  const fw = W - p.ml - p.mr, fh = p.h - p.mt - p.mb;
  const svg = Plot.plot({
    width: W, height: p.h,
    marginTop: p.mt, marginBottom: p.mb, marginLeft: p.ml, marginRight: p.mr,
    style: {fontFamily: FONT, fontSize: "19px", background: "transparent", color: "black", overflow: "visible"},
    x: {domain: [0, p.xmax], ticks: p.xTicks, tickSize: 0, tickPadding: 13, tickFormat: d => String(d), label: null},
    y: {domain: [0, p.ymax], ticks: p.yTicks, tickSize: 0, tickPadding: 12, tickFormat: d => String(d), label: null},
    marks: [
      Plot.ruleY([1], {stroke: "black", strokeWidth: 1}),
      Plot.dot(p.eig, {x: "x", y: "y", r: 1.5, fill: "black", stroke: "none"}),
      Plot.dot(p.nul, {x: "x", y: "y", r: 2.5, symbol: pentagon, stroke: NULL_STROKE, fill: NULL_FILL, strokeWidth: 1, clip: true}),
      Plot.tickX(p.xTicks, {x: d => d, insetTop: fh - 6, stroke: "black"}),
      Plot.tickX(p.xTicks, {x: d => d, insetBottom: fh - 6, stroke: "black"}),
      Plot.tickY(p.yTicks, {y: d => d, insetRight: fw - 6, stroke: "black"}),
      Plot.tickY(p.yTicks, {y: d => d, insetLeft: fw - 6, stroke: "black"}),
      Plot.frame({stroke: "black", strokeWidth: 1.2}),
      Plot.text([legendLabels[0]], {frameAnchor: "bottom-left", dx: 300, dy: -38, textAnchor: "start", fontSize: 19, fill: "black"}),
      Plot.text([legendLabels[1]], {frameAnchor: "bottom-left", dx: 300, dy: -16, textAnchor: "start", fontSize: 19, fill: "black"}),
      Plot.dot([legendLabels[0]], {frameAnchor: "bottom-left", dx: 259, dy: -37, r: 1.5, fill: "black", stroke: "none"}),
      Plot.dot([legendLabels[1]], {frameAnchor: "bottom-left", dx: 259, dy: -16, r: 2.5, symbol: pentagon, stroke: NULL_STROKE, fill: NULL_FILL, strokeWidth: 1}),
      Plot.text([xAxisLabel], {frameAnchor: "bottom", dy: 50, fontSize: 25, fill: "black"})
    ]
  });
  const cy = p.mt + fh / 2;
  const t = d3.select(svg).append("text")
    .attr("transform", `translate(${p.ylabX},${cy}) rotate(-90)`)
    .attr("text-anchor", "middle").attr("font-size", 22).attr("font-family", FONT).attr("fill", "black");
  let shift = 0;
  for (const [s, k] of p.ylab) {
    const target = k === "sup" ? -8 : k === "sub" ? 5 : 0;
    const ts = t.append("tspan").attr("dy", target - shift).text(s);
    shift = target;
    if (k === "i" || k === "sub") ts.attr("font-style", "italic");
    if (k === "sup" || k === "sub") ts.attr("font-size", 15);
  }
  const div = document.createElement("div");
  div.className = "panel";
  div.style.left = p.left + "px";
  div.style.top = p.top + "px";
  div.appendChild(svg);
  const title = document.createElement("div");
  title.className = "title";
  title.style.left = (p.ml + fw / 2) + "px";
  title.style.top = p.titleTop + "px";
  title.innerHTML = p.title;
  div.appendChild(title);
  wrap.appendChild(div);
}
</script>
</body></html>
